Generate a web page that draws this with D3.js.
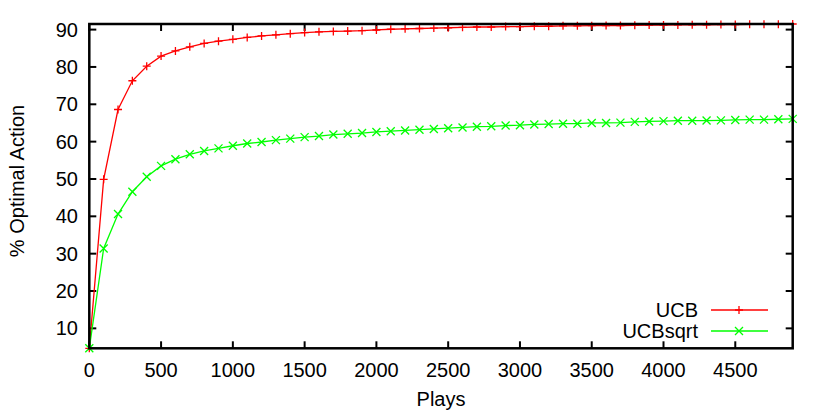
<!DOCTYPE html>
<html>
<head>
<meta charset="utf-8">
<script src="https://cdn.jsdelivr.net/npm/d3@7"></script>
<style>
  body { margin: 0; background: #fff; }
  svg text { font-family: "Liberation Sans", Arial, sans-serif; fill: #000; }
</style>
</head>
<body>
<svg id="chart" width="830" height="415"></svg>
<script>
// plays sampled every 100
var plays = d3.range(0, 5000, 100);
var ucb = [4.66, 49.9, 68.6, 76.3, 80.2, 82.9, 84.3, 85.4, 86.3, 86.9,
           87.4, 87.9, 88.3, 88.6, 88.9, 89.2, 89.4, 89.5, 89.6, 89.7,
           89.9, 90.1, 90.2, 90.3, 90.4, 90.5, 90.6, 90.7, 90.7, 90.8,
           90.8, 90.9, 90.9, 91.0, 91.0, 91.05, 91.1, 91.1, 91.15, 91.2,
           91.2, 91.25, 91.3, 91.3, 91.35, 91.35, 91.4, 91.4, 91.45, 91.5];
var ucbSqrt = [4.66, 31.4, 40.6, 46.6, 50.6, 53.5, 55.3, 56.6, 57.5, 58.2,
               58.9, 59.5, 59.9, 60.4, 60.8, 61.2, 61.5, 61.9, 62.1, 62.3,
               62.6, 62.8, 63.0, 63.2, 63.4, 63.6, 63.8, 64.0, 64.1, 64.3,
               64.4, 64.6, 64.7, 64.8, 64.8, 65.0, 65.0, 65.1, 65.3, 65.4,
               65.5, 65.6, 65.6, 65.65, 65.7, 65.8, 65.9, 65.9, 66.0, 66.1];
var xTicks = [0, 500, 1000, 1500, 2000, 2500, 3000, 3500, 4000, 4500];
var yTicks = [10, 20, 30, 40, 50, 60, 70, 80, 90];

var series = [
  {name: "UCB", values: ucb, color: "#ff0000", mark: "plus"},
  {name: "UCBsqrt", values: ucbSqrt, color: "#00ff00", mark: "cross"}
];

var pLeft = 89.3, pRight = 792.7, pTop = 24, pBottom = 348.3;
var svg = d3.select("#chart");

var x = d3.scaleLinear().domain([0, 4900]).range([pLeft, pRight]);
var y = d3.scaleLinear().domain([4.66, 91.5]).range([pBottom, pTop]);

var tl = 7;
var g = svg.append("g");

// tick marks (inward, mirrored)
xTicks.forEach(function(t){
  g.append("line").attr("x1", x(t)).attr("x2", x(t)).attr("y1", pBottom).attr("y2", pBottom - tl)
    .attr("stroke", "#000").attr("stroke-width", 2);
  g.append("line").attr("x1", x(t)).attr("x2", x(t)).attr("y1", pTop).attr("y2", pTop + tl)
    .attr("stroke", "#000").attr("stroke-width", 2);
  g.append("text").attr("x", x(t)).attr("y", 377).attr("text-anchor", "middle")
    .attr("font-size", 20).text(t);
});
yTicks.forEach(function(t){
  g.append("line").attr("x1", pLeft).attr("x2", pLeft + tl).attr("y1", y(t)).attr("y2", y(t))
    .attr("stroke", "#000").attr("stroke-width", 2);
  g.append("line").attr("x1", pRight).attr("x2", pRight - tl).attr("y1", y(t)).attr("y2", y(t))
    .attr("stroke", "#000").attr("stroke-width", 2);
  g.append("text").attr("x", 78).attr("y", y(t) + 7).attr("text-anchor", "end")
    .attr("font-size", 20).text(t);
});

// axis titles
svg.append("text").attr("x", 441).attr("y", 406).attr("text-anchor", "middle")
  .attr("font-size", 20).text("Plays");
svg.append("text").attr("transform", "translate(24,181) rotate(-90)")
  .attr("text-anchor", "middle").attr("font-size", 20).text("% Optimal Action");

function drawMark(sel, type, cx, cy, color) {
  var s = 4;
  if (type == "plus") {
    sel.append("path").attr("d", "M" + (cx - s) + "," + cy + "H" + (cx + s) + "M" + cx + "," + (cy - s) + "V" + (cy + s))
      .attr("stroke", color).attr("stroke-width", 1.3).attr("fill", "none");
  } else {
    sel.append("path").attr("d", "M" + (cx - s) + "," + (cy - s) + "L" + (cx + s) + "," + (cy + s) +
        "M" + (cx - s) + "," + (cy + s) + "L" + (cx + s) + "," + (cy - s))
      .attr("stroke", color).attr("stroke-width", 1.3).attr("fill", "none");
  }
}

var line = d3.line().x(function(d, i){ return x(plays[i]); }).y(function(d){ return y(d); });

series.forEach(function(s){
  svg.append("path").datum(s.values).attr("d", line)
    .attr("fill", "none").attr("stroke", s.color).attr("stroke-width", 1.3);
  var mg = svg.append("g");
  s.values.forEach(function(v, i){ drawMark(mg, s.mark, x(plays[i]), y(v), s.color); });
});

// legend
series.forEach(function(s, i){
  var ly = 310 + i * 21;
  svg.append("text").attr("x", 698).attr("y", ly + 7).attr("text-anchor", "end")
    .attr("font-size", 20).text(s.name);
  svg.append("line").attr("x1", 711).attr("x2", 768).attr("y1", ly).attr("y2", ly)
    .attr("stroke", s.color).attr("stroke-width", 1.3);
  drawMark(svg, s.mark, 739, ly, s.color);
});

// border
svg.append("rect").attr("x", pLeft).attr("y", pTop).attr("width", pRight - pLeft).attr("height", pBottom - pTop)
  .attr("fill", "none").attr("stroke", "#000").attr("stroke-width", 2.5);
</script>
</body>
</html>
